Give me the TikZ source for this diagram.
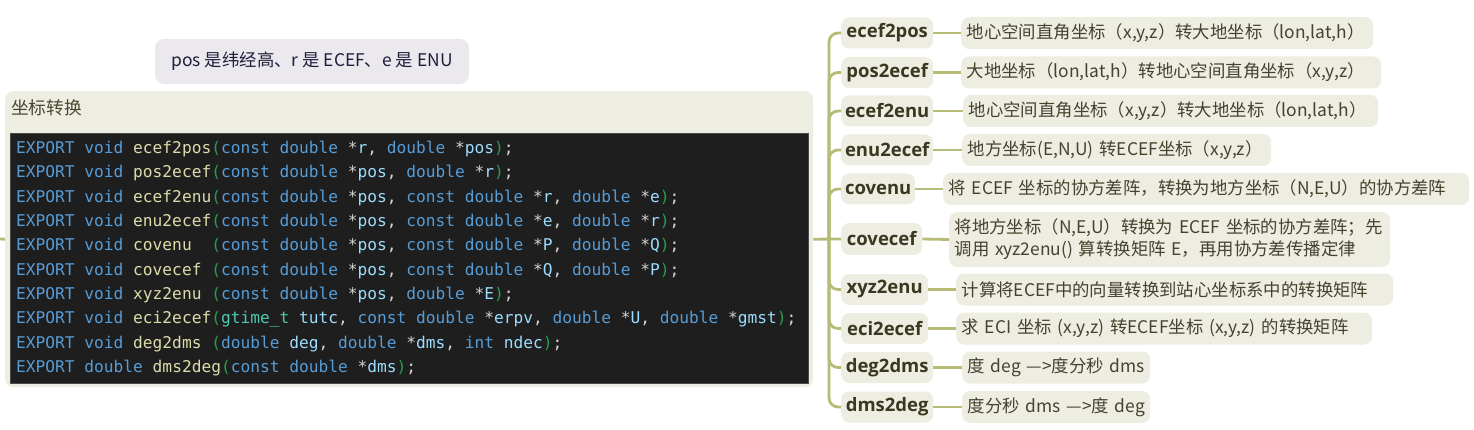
\documentclass[tikz,border=0pt]{standalone}
\usepackage{fontspec}
\setmainfont{Open Sans}
\newfontfamily\cjk{Noto Sans CJK SC}
\newfontfamily\codefont{DejaVu Sans Mono}
\definecolor{beige}{HTML}{EDEDE1}
\definecolor{olive}{HTML}{B6BB78}
\definecolor{childtxt}{HTML}{3A3820}
\definecolor{desctxt}{HTML}{46422E}
\definecolor{titletxt}{HTML}{4A4630}
\definecolor{cmtbg}{HTML}{EBE9EE}
\definecolor{cmttxt}{HTML}{1E1E3C}
\definecolor{codebg}{HTML}{1E1E1E}
\definecolor{codeframe}{HTML}{4A4A4A}
\definecolor{cgrey}{HTML}{D4D4D4}
\definecolor{ckw}{HTML}{569CD6}
\definecolor{cfn}{HTML}{DCDCAA}
\definecolor{cpar}{HTML}{23A04F}
\definecolor{cvar}{HTML}{9CDCFE}
\definecolor{ctype}{HTML}{4EC9B0}
\newcommand\ck[1]{\textcolor{ckw}{#1}}
\newcommand\cf[1]{\textcolor{cfn}{#1}}
\newcommand\cp[1]{\textcolor{cpar}{#1}}
\newcommand\cv[1]{\textcolor{cvar}{#1}}
\newcommand\ct[1]{\textcolor{ctype}{#1}}
\tikzset{
  conn/.style={draw=olive, line width=2.8pt},
  fn/.style={fill=beige, rounded corners=8pt, text=childtxt, anchor=west,
    font=\bfseries\fontsize{18.5}{20}\selectfont, inner sep=0pt,
    minimum height=31pt, minimum width=#1},
  dsc/.style={fill=beige, rounded corners=8pt, text=desctxt, anchor=west,
    font=\cjk\fontsize{17.4}{22}\selectfont, inner xsep=5.5pt, inner ysep=3pt,
    minimum height=32pt, text width=#1, align=left},
  codeline/.style={anchor=base west, inner sep=0pt, text=cgrey,
    font=\codefont\fontsize{16.2}{20}\selectfont\frenchspacing}
}
\begin{document}
\begin{tikzpicture}[x=1pt,y=-1pt]
\useasboundingbox (0,0) rectangle (1474,430);
% comment
\node[fill=cmtbg, rounded corners=9pt, minimum width=314pt, minimum height=45pt,
  text=cmttxt, font=\cjk\fontsize{17.4}{20}\selectfont, inner sep=0pt] (note) at (312,61.5)
  {pos 是纬经高、r 是 ECEF、e 是 ENU};
% main topic
\node[fill=beige, rounded corners=8pt, minimum width=808pt, minimum height=296pt,
  anchor=north west, inner sep=0pt] (main) at (5,91) {};
\node[anchor=west, inner sep=0pt, text=titletxt, font=\cjk\fontsize{17.7}{20}\selectfont] (title) at (11,108) {坐标转换};
\node[fill=codebg, draw=codeframe, line width=0.8pt, minimum width=798pt, minimum height=250pt,
  anchor=north west, inner sep=0pt] (codebox) at (10,133) {};
\node[codeline] (l1) at (16,153.5) {\ck{EXPORT} \ck{void} \cf{ecef2pos}\cp{(}\ck{const} \ck{double} *\cv{r}, \ck{double} *\cv{pos}\cp{)};};
\node[codeline] (l2) at (16,177.8) {\ck{EXPORT} \ck{void} \cf{pos2ecef}\cp{(}\ck{const} \ck{double} *\cv{pos}, \ck{double} *\cv{r}\cp{)};};
\node[codeline] (l3) at (16,202.2) {\ck{EXPORT} \ck{void} \cf{ecef2enu}\cp{(}\ck{const} \ck{double} *\cv{pos}, \ck{const} \ck{double} *\cv{r}, \ck{double} *\cv{e}\cp{)};};
\node[codeline] (l4) at (16,226.5) {\ck{EXPORT} \ck{void} \cf{enu2ecef}\cp{(}\ck{const} \ck{double} *\cv{pos}, \ck{const} \ck{double} *\cv{e}, \ck{double} *\cv{r}\cp{)};};
\node[codeline] (l5) at (16,250.8) {\ck{EXPORT} \ck{void} \cf{covenu}\ \ \cp{(}\ck{const} \ck{double} *\cv{pos}, \ck{const} \ck{double} *\cv{P}, \ck{double} *\cv{Q}\cp{)};};
\node[codeline] (l6) at (16,275.2) {\ck{EXPORT} \ck{void} \cf{covecef} \cp{(}\ck{const} \ck{double} *\cv{pos}, \ck{const} \ck{double} *\cv{Q}, \ck{double} *\cv{P}\cp{)};};
\node[codeline] (l7) at (16,299.5) {\ck{EXPORT} \ck{void} \cf{xyz2enu} \cp{(}\ck{const} \ck{double} *\cv{pos}, \ck{double} *\cv{E}\cp{)};};
\node[codeline] (l8) at (16,323.8) {\ck{EXPORT} \ck{void} \cf{eci2ecef}\cp{(}\ct{gtime\_t} \cv{tutc}, \ck{const} \ck{double} *\cv{erpv}, \ck{double} *\cv{U}, \ck{double} *\cv{gmst}\cp{)};};
\node[codeline] (l9) at (16,348.2) {\ck{EXPORT} \ck{void} \cf{deg2dms} \cp{(}\ck{double} \cv{deg}, \ck{double} *\cv{dms}, \ck{int} \cv{ndec}\cp{)};};
\node[codeline] (l10) at (16,372.5) {\ck{EXPORT} \ck{double} \cf{dms2deg}\cp{(}\ck{const} \ck{double} *\cv{dms}\cp{)};};
% children
\node[fn=92pt] (c1) at (841,33) {ecef2pos};
\node[fn=92pt] (c2) at (841,72.5) {pos2ecef};
\node[fn=92pt] (c3) at (841,111) {ecef2enu};
\node[fn=92pt] (c4) at (841,150) {enu2ecef};
\node[fn=74pt] (c5) at (841,189) {covenu};
\node[fn=81pt, minimum height=32pt] (c6) at (841,239) {covecef};
\node[fn=87pt] (c7) at (841,289.5) {xyz2enu};
\node[fn=87pt] (c8) at (841,328.5) {eci2ecef};
\node[fn=92pt] (c9) at (841,367.5) {deg2dms};
\node[fn=92pt] (c10) at (841,407) {dms2deg};
% descriptions
\node[dsc=401pt] (d1) at (961,33) {\mbox{地心空间直角坐标（x,y,z）转大地坐标（lon,lat,h）}};
\node[dsc=409pt] (d2) at (961,72.5) {\mbox{大地坐标（lon,lat,h）转地心空间直角坐标（x,y,z）}};
\node[dsc=404pt] (d3) at (963,111) {\mbox{地心空间直角坐标（x,y,z）转大地坐标（lon,lat,h）}};
\node[dsc=298pt] (d4) at (962,150) {\mbox{地方坐标(E,N,U) 转ECEF坐标（x,y,z）}};
\node[dsc=515pt] (d5) at (943,189) {\mbox{将 ECEF 坐标的协方差阵，转换为地方坐标（N,E,U）的协方差阵}};
\node[dsc=430pt, minimum height=55pt] (d6) at (949,239.5) {\mbox{将地方坐标（N,E,U）转换为 ECEF 坐标的协方差阵；先}\\\mbox{调用 xyz2enu() 算转换矩阵 E，再用协方差传播定律}};
\node[dsc=426pt] (d7) at (956,289.5) {\mbox{计算将ECEF中的向量转换到站心坐标系中的转换矩阵}};
\node[dsc=405pt] (d8) at (956,328.5) {\mbox{求 ECI 坐标 (x,y,z) 转ECEF坐标 (x,y,z) 的转换矩阵}};
\node[dsc=177pt] (d9) at (962,367.5) {\mbox{度 deg —>度分秒 dms}};
\node[dsc=177pt] (d10) at (962,407) {\mbox{度分秒 dms —>度 deg}};
% connectors
\coordinate (J) at (829,239);
\coordinate (stub) at (0,239);
\draw[conn] (main.west) -- (stub);
\draw[conn] (main.east) -- (c6.west);
\foreach \c in {c1,c2,c3,c4,c5,c7,c8,c9,c10}
  \draw[conn, rounded corners=9pt] (J) |- (\c.west);
\foreach \i in {1,...,10}
  \draw[conn] (c\i.east) -- (d\i.west);
\end{tikzpicture}
\end{document}
